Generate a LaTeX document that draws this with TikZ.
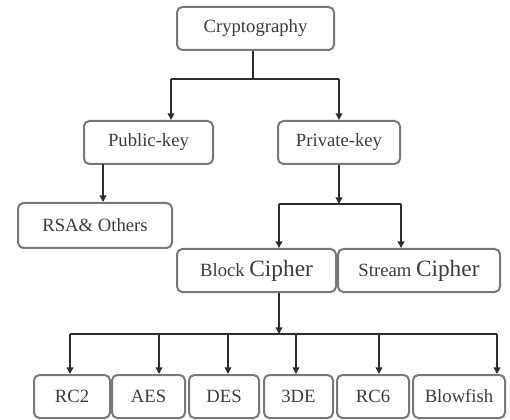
\documentclass[tikz,border=0pt]{standalone}
\usepackage{fontspec}
\setmainfont{Liberation Serif}
\usetikzlibrary{arrows.meta}

\definecolor{boxgray}{RGB}{120,120,120}
\definecolor{linegray}{RGB}{45,45,45}
\definecolor{textgray}{RGB}{60,60,60}

\tikzset{every picture/.style={line width=0.75pt}}
\tikzset{
  keybox/.style={draw=boxgray, line width=1.5pt, rounded corners=4pt, fill=white,
    text=textgray, inner sep=0.75pt, font=\fontsize{14}{16}\selectfont},
  link/.style={draw=linegray, line width=1.1pt},
  arr/.style={link, -{Triangle[length=5pt,width=5pt]}}
}
\newcommand{\bigC}{\fontsize{17.5}{19}\selectfont Cipher}

\begin{document}
\begin{tikzpicture}[x=0.75pt,y=0.75pt,yscale=-1,xscale=1]
%set diagram left start at 0, and has height of 420
\path[use as bounding box] (0,0) rectangle (510,420);

% Boxes
\node [keybox, minimum width=157*0.75pt, minimum height=43*0.75pt] (crypt) at (255.5,28.5) {Cryptography};
\node [keybox, minimum width=129*0.75pt, minimum height=43*0.75pt] (pub) at (148.5,142.5) {Public-key};
\node [keybox, minimum width=122*0.75pt, minimum height=43*0.75pt] (priv) at (339,142.5) {Private-key};
\node [keybox, minimum width=154*0.75pt, minimum height=45*0.75pt] (rsa) at (95,225.5) {RSA\& Others};
\node [keybox, minimum width=159*0.75pt, minimum height=43*0.75pt] (block) at (256.5,270.5) {Block \bigC};
\node [keybox, minimum width=162*0.75pt, minimum height=43*0.75pt] (stream) at (419,270.5) {Stream \bigC};

% Bottom row
\node [keybox, minimum width=76*0.75pt, minimum height=43*0.75pt] (rc2) at (72,396.5) {RC2};
\node [keybox, minimum width=73*0.75pt, minimum height=43*0.75pt] (aes) at (148.5,396.5) {AES};
\node [keybox, minimum width=70*0.75pt, minimum height=43*0.75pt] (des) at (224,396.5) {DES};
\node [keybox, minimum width=69*0.75pt, minimum height=43*0.75pt] (tdes) at (298.5,396.5) {3DE};
\node [keybox, minimum width=72*0.75pt, minimum height=43*0.75pt] (rc6) at (373,396.5) {RC6};
\node [keybox, minimum width=92*0.75pt, minimum height=43*0.75pt] (blow) at (459,396.5) {Blowfish};

% Junction points
\coordinate (j1) at (253,79);
\coordinate (j1l) at (171,79);
\coordinate (j1r) at (339,79);
\coordinate (j2) at (103,164);
\coordinate (j3) at (339,204);
\coordinate (j3l) at (279,204);
\coordinate (j3r) at (401,204);
\coordinate (j4) at (279,334);
\coordinate (j4l) at (70,334);
\coordinate (j4r) at (497,334);

% Cryptography to key types
\draw [link, line width=2.2pt] (crypt.south -| j1) -- (j1);
\draw [link] (j1l) -- (j1r);
\draw [arr] (j1l) -- (j1l |- pub.north);
\draw [arr] (j1r) -- (priv.north);

% Public-key to RSA
\draw [arr] (j2) -- (j2 |- rsa.north);

% Private-key to ciphers
\draw [arr] (priv.south) -- (j3);
\draw [link] (j3l) -- (j3r);
\draw [arr] (j3l) -- (j3l |- block.north);
\draw [arr] (j3r) -- (j3r |- stream.north);

% Block cipher to algorithms
\draw [arr] (block.south -| j4) -- (j4);
\draw [link] (j4l) -- (j4r);
\foreach \xx/\nm in {70/rc2, 159/aes, 228/des, 296/tdes, 379/rc6, 497/blow}{
  \coordinate (drop) at (\xx,334);
  \draw [arr] (drop) -- (drop |- \nm.north);
}

\end{tikzpicture}
\end{document}
